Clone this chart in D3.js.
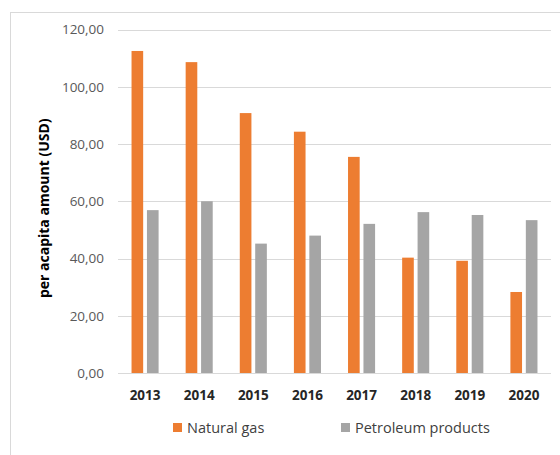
<!DOCTYPE html>
<html>
<head>
<meta charset="utf-8">
<script src="https://cdn.jsdelivr.net/npm/d3@7"></script>
<style>
  body { margin: 0; background: #fff; }
  text { font-family: "Open Sans", sans-serif; }
</style>
</head>
<body>
<svg id="chart" width="560" height="455"></svg>
<script>
// Chart data
const years = ["2013", "2014", "2015", "2016", "2017", "2018", "2019", "2020"];
const naturalGas = [112.5, 108.6, 90.8, 84.3, 75.5, 40.3, 39.2, 28.3];
const petroleum = [56.9, 60.0, 45.2, 48.0, 52.1, 56.2, 55.2, 53.4];
const yTicks = [0, 20, 40, 60, 80, 100, 120];
const seriesNames = ["Natural gas", "Petroleum products"];
const colors = ["#ed7d31", "#a5a5a5"];

const width = 560;
const height = 455;
const margin = { top: 29.5, right: 9, bottom: 82, left: 118 };

const svg = d3.select("#chart");

// Outer chart frame (clipped by window on right/bottom)
svg.append("rect")
  .attr("x", 10.5).attr("y", 12.5)
  .attr("width", 560).attr("height", 460)
  .attr("fill", "none")
  .attr("stroke", "#d9d9d9");

const x = d3.scaleBand()
  .domain(years)
  .range([margin.left, width - margin.right]);

const y = d3.scaleLinear()
  .domain([0, 120])
  .range([height - margin.bottom, margin.top]);

// Gridlines
svg.append("g")
  .selectAll("line")
  .data(yTicks)
  .join("line")
  .attr("x1", margin.left)
  .attr("x2", width - margin.right)
  .attr("y1", d => Math.round(y(d)) + 0.5)
  .attr("y2", d => Math.round(y(d)) + 0.5)
  .attr("stroke", "#d9d9d9")
  .attr("stroke-width", 1);

// Y axis labels
const yAxis = d3.axisLeft(y)
  .tickValues(yTicks)
  .tickFormat(d => d3.format(".2f")(d).replace(".", ","))
  .tickSize(0)
  .tickPadding(14);

svg.append("g")
  .attr("transform", `translate(${margin.left},0)`)
  .call(yAxis)
  .call(g => g.select(".domain").remove())
  .selectAll("text")
  .attr("font-size", 13.5)
  .attr("fill", "#595959")
  .style("font-family", "'Open Sans', sans-serif");

// X axis labels
const xAxis = d3.axisBottom(x).tickSize(0).tickPadding(17);
svg.append("g")
  .attr("transform", `translate(0,${height - margin.bottom})`)
  .call(xAxis)
  .call(g => g.select(".domain").remove())
  .selectAll("text")
  .attr("font-size", 13.5)
  .attr("font-weight", "bold")
  .attr("fill", "#262626")
  .style("font-family", "'Open Sans', sans-serif");

// Bars
const barW = x.bandwidth() * 0.215;
const innerGap = x.bandwidth() * 0.07;
const series = [naturalGas, petroleum];

series.forEach((vals, si) => {
  svg.append("g")
    .selectAll("rect")
    .data(vals)
    .join("rect")
    .attr("x", (d, i) => {
      const c = x(years[i]) + x.bandwidth() / 2;
      return si === 0 ? c - innerGap / 2 - barW : c + innerGap / 2;
    })
    .attr("y", d => y(d))
    .attr("width", barW)
    .attr("height", d => y(0) - y(d))
    .attr("fill", colors[si]);
});

// Y axis title
svg.append("text")
  .attr("transform", `translate(49,${(y(0) + y(120)) / 2 + 7}) rotate(-90)`)
  .attr("text-anchor", "middle")
  .attr("font-size", 14)
  .attr("font-weight", "bold")
  .attr("fill", "#000")
  .text("per acapita amount (USD)");

// Legend
const legendX = [173, 341];
const legend = svg.append("g");
seriesNames.forEach((name, i) => {
  legend.append("rect")
    .attr("x", legendX[i]).attr("y", 423)
    .attr("width", 9).attr("height", 9)
    .attr("fill", colors[i]);
  legend.append("text")
    .attr("x", legendX[i] + 14).attr("y", 432.5)
    .attr("font-size", 14.5)
    .attr("fill", "#404040")
    .text(name);
});
</script>
</body>
</html>
